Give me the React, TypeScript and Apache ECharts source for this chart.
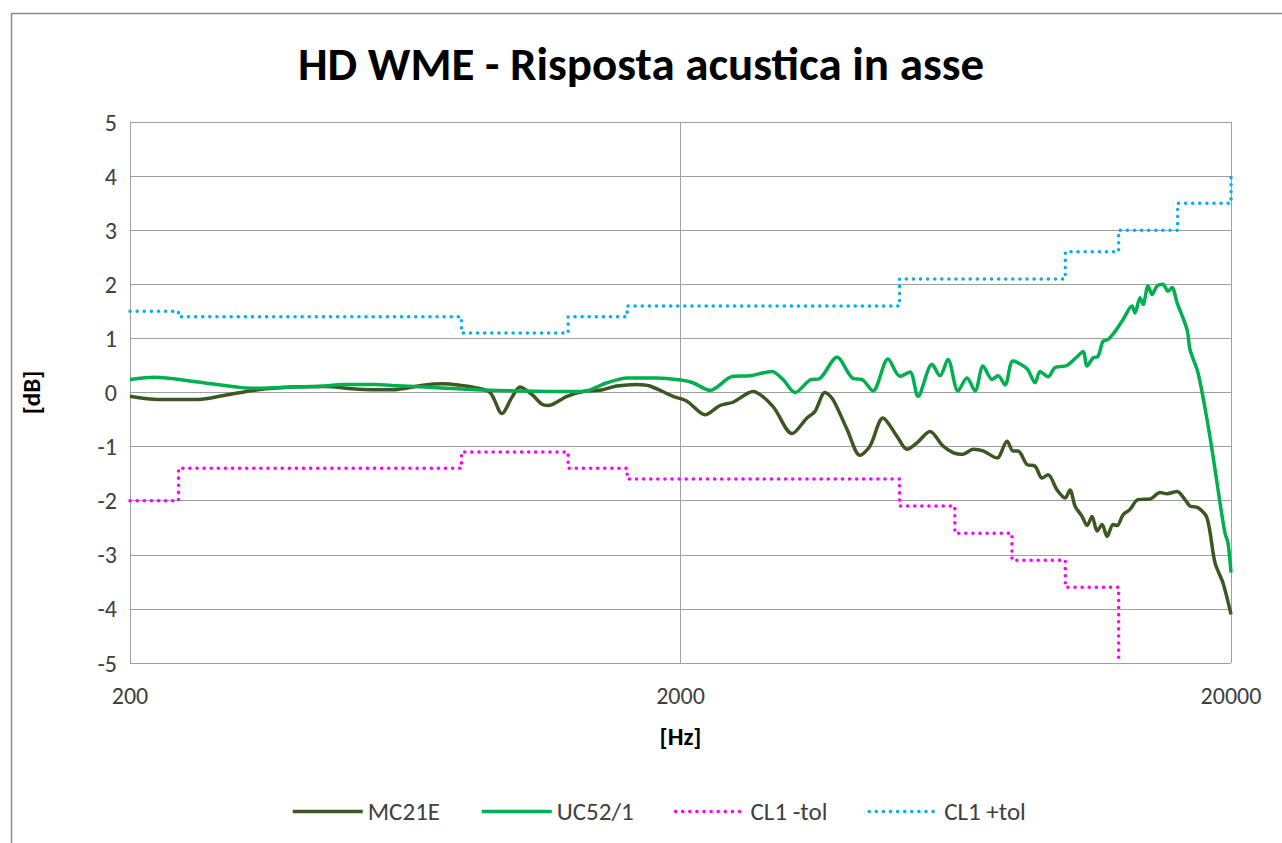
import React, { useEffect, useRef } from "react";
import * as echarts from "echarts";

// ---------- data ----------
const TITLE = "HD WME - Risposta acustica in asse";
const X_TICKS = [200, 2000, 20000];
const Y_MIN = -5;
const Y_MAX = 5;

const MC21E_FREQ = [
  200, 225, 266, 298, 342, 394, 452, 519, 598, 687, 737, 789, 847, 902, 948, 988, 1022, 1075, 1121, 1149,
  1244, 1330, 1428, 1533, 1667, 1760, 1938, 2055, 2216, 2359, 2491, 2709, 2945, 3188, 3395, 3510, 3660,
  3785, 4013, 4237, 4418, 4665, 4947, 5158, 5378, 5679, 5996, 6252, 6437, 6519, 6800, 7090, 7518, 7838,
  8037, 8206, 8521, 8811, 9074, 9304, 9660, 9990, 10201, 10416, 10727, 10954, 11185, 11422, 11663, 11910,
  12213, 12419, 12734, 13111, 13557, 14256, 14865, 15306, 15960, 16504, 16852, 17425, 18092, 18708, 19342,
  20000,
];
const MC21E_DB = [
  -0.07, -0.13, -0.13, -0.05, 0.05, 0.1, 0.11, 0.06, 0.05, 0.14, 0.16, 0.14, 0.09, 0.0, -0.39, -0.09, 0.1,
  -0.04, -0.22, -0.24, -0.07, 0.02, 0.04, 0.12, 0.15, 0.12, -0.07, -0.16, -0.41, -0.24, -0.18, 0.02, -0.26,
  -0.76, -0.47, -0.35, 0.0, -0.13, -0.68, -1.16, -0.99, -0.47, -0.81, -1.05, -0.93, -0.72, -0.99, -1.11,
  -1.14, -1.14, -1.05, -1.08, -1.21, -0.9, -1.08, -1.08, -1.33, -1.36, -1.58, -1.52, -1.8, -1.95, -1.8,
  -2.1, -2.29, -2.46, -2.29, -2.56, -2.44, -2.66, -2.44, -2.46, -2.26, -2.16, -1.98, -1.97, -1.85, -1.87,
  -1.83, -1.98, -2.1, -2.13, -2.32, -3.15, -3.52, -4.1,
];

const UC52_FREQ = [
  200, 222, 259, 319, 342, 394, 452, 486, 557, 598, 687, 789, 902, 1022, 1149, 1330, 1471, 1599, 1813, 2004,
  2107, 2263, 2491, 2675, 2932, 3071, 3229, 3437, 3584, 3849, 4115, 4273, 4474, 4764, 5009, 5223, 5401,
  5726, 5921, 6122, 6384, 6629, 6857, 7090, 7362, 7550, 7773, 8037, 8521, 8811, 8998, 9304, 9580, 10074,
  10504, 10772, 10954, 11232, 11470, 11712, 11960, 12316, 12734, 13221, 13388, 13670, 13843, 14137, 14375,
  14679, 15052, 15370, 15629, 15960, 16642, 16852, 17425, 18092, 18553, 19101, 19505, 19750, 20000,
];
const UC52_DB = [
  0.24, 0.28, 0.21, 0.09, 0.08, 0.1, 0.12, 0.15, 0.15, 0.13, 0.1, 0.07, 0.04, 0.03, 0.02, 0.02, 0.18, 0.27,
  0.27, 0.23, 0.18, 0.04, 0.3, 0.31, 0.39, 0.24, 0.0, 0.23, 0.26, 0.65, 0.26, 0.24, 0.03, 0.62, 0.3, 0.38,
  -0.07, 0.52, 0.31, 0.61, 0.03, 0.27, 0.03, 0.49, 0.24, 0.31, 0.14, 0.58, 0.44, 0.18, 0.39, 0.29, 0.46,
  0.5, 0.66, 0.76, 0.49, 0.64, 0.67, 0.95, 0.98, 1.13, 1.35, 1.6, 1.47, 1.75, 1.63, 1.97, 1.81, 1.97, 2.0,
  1.87, 1.94, 1.66, 1.16, 0.79, 0.36, -0.5, -1.18, -2.04, -2.6, -2.78, -3.33,
];

// tolerance steps: value holds from edge[i] to edge[i+1]
const TOL_MINUS_EDGES = [200, 245, 800, 1250, 1600, 5000, 6300, 8000, 10000, 12500];
const TOL_MINUS_DB = [-2.0, -1.4, -1.1, -1.4, -1.6, -2.1, -2.6, -3.1, -3.6];
const TOL_MINUS_END = -5.0;
const TOL_PLUS_EDGES = [200, 245, 800, 1250, 1600, 5000, 10000, 12500, 16000, 20000];
const TOL_PLUS_DB = [1.5, 1.4, 1.1, 1.4, 1.6, 2.1, 2.6, 3.0, 3.5];
const TOL_PLUS_END = 4.0;

const SERIES_NAMES = ["MC21E", "UC52/1", "CL1 -tol", "CL1 +tol"];
const COLORS = ["#3d5723", "#00b050", "#ff00ff", "#00b0f0"];

// ---------- helpers ----------
const F0 = 200;
const toU = (f: number) => Math.log10(f / F0);
const pairs = (fs: number[], vs: number[]) => fs.map((f, i) => [toU(f), vs[i]]);
const steps = (edges: number[], vals: number[], endVal: number) => {
  const out: number[][] = [];
  for (let i = 0; i < vals.length; i++) {
    out.push([toU(edges[i]), vals[i]]);
    out.push([toU(edges[i + 1]), vals[i]]);
  }
  out.push([toU(edges[edges.length - 1]), endVal]);
  return out;
};

const FONT = "Carlito, Calibri, Lato, 'Open Sans', sans-serif";

export default function App() {
  const ref = useRef<HTMLDivElement>(null);
  useEffect(() => {
    if (!ref.current) return;
    const chart = echarts.init(ref.current, undefined, { renderer: "svg" });
    const dotted = { type: [0.1, 7] as any, cap: "round" as const, width: 3.5 };
    chart.setOption({
      animation: false,
      backgroundColor: "#ffffff",
      textStyle: { fontFamily: FONT },
      title: {
        text: TITLE,
        left: "center",
        top: 35,
        textStyle: { fontFamily: FONT, fontWeight: "bold", fontSize: 47, color: "#000000" },
      },
      graphic: [
        {
          type: "rect",
          left: 9,
          top: 11,
          shape: { width: 1300, height: 860 },
          style: { fill: "none", stroke: "#8c8c8c", lineWidth: 1.5 },
          silent: true,
        },
      ],
      legend: {
        top: 794,
        left: 286,
        itemWidth: 70,
        itemHeight: 14,
        itemGap: 40,
        itemStyle: { opacity: 0 },
        lineStyle: { width: 3.5 },
        textStyle: { fontFamily: FONT, fontSize: 25, color: "#404040" },
        data: SERIES_NAMES,
      },
      grid: { left: 130, right: 51, top: 122, bottom: 180, containLabel: false },
      xAxis: {
        type: "value",
        min: toU(X_TICKS[0]),
        max: toU(X_TICKS[X_TICKS.length - 1]),
        interval: 1,
        name: "[Hz]",
        nameLocation: "middle",
        nameGap: 61,
        nameTextStyle: { fontFamily: FONT, fontWeight: "bold", fontSize: 25, color: "#000" },
        axisLine: { show: true, lineStyle: { color: "#a0a0a0", width: 1 } },
        axisTick: { show: false },
        axisLabel: {
          margin: 20,
          fontFamily: FONT,
          fontSize: 24,
          color: "#404040",
          formatter: (u: number) => String(Math.round(F0 * Math.pow(10, u))),
        },
        splitLine: { show: true, lineStyle: { color: "#a0a0a0", width: 1 } },
      },
      yAxis: {
        type: "value",
        min: Y_MIN,
        max: Y_MAX,
        interval: 1,
        name: "[dB]",
        nameLocation: "middle",
        nameRotate: 90,
        nameGap: 86,
        nameTextStyle: { fontFamily: FONT, fontWeight: "bold", fontSize: 25, color: "#000" },
        axisLine: { show: true, lineStyle: { color: "#a0a0a0", width: 1 } },
        axisTick: { show: false },
        axisLabel: { margin: 13, fontFamily: FONT, fontSize: 24, color: "#404040" },
        splitLine: { show: true, lineStyle: { color: "#a0a0a0", width: 1 } },
      },
      series: [
        {
          name: SERIES_NAMES[0],
          type: "line",
          data: pairs(MC21E_FREQ, MC21E_DB),
          smooth: 0.3,
          symbol: "none",
          lineStyle: { color: COLORS[0], width: 3.5 },
          itemStyle: { color: COLORS[0] },
          z: 2,
        },
        {
          name: SERIES_NAMES[1],
          type: "line",
          data: pairs(UC52_FREQ, UC52_DB),
          smooth: 0.3,
          symbol: "none",
          lineStyle: { color: COLORS[1], width: 3.5 },
          itemStyle: { color: COLORS[1] },
          z: 3,
        },
        {
          name: SERIES_NAMES[2],
          type: "line",
          data: steps(TOL_MINUS_EDGES, TOL_MINUS_DB, TOL_MINUS_END),
          symbol: "none",
          lineStyle: { color: COLORS[2], ...dotted },
          itemStyle: { color: COLORS[2] },
          z: 4,
        },
        {
          name: SERIES_NAMES[3],
          type: "line",
          data: steps(TOL_PLUS_EDGES, TOL_PLUS_DB, TOL_PLUS_END),
          symbol: "none",
          lineStyle: { color: COLORS[3], ...dotted },
          itemStyle: { color: COLORS[3] },
          z: 5,
        },
      ],
    });
    return () => chart.dispose();
  }, []);
  return (
    <div
      ref={ref}
      style={{ position: "fixed", left: 0, top: 0, width: 1282, height: 843, background: "#fff" }}
    />
  );
}
